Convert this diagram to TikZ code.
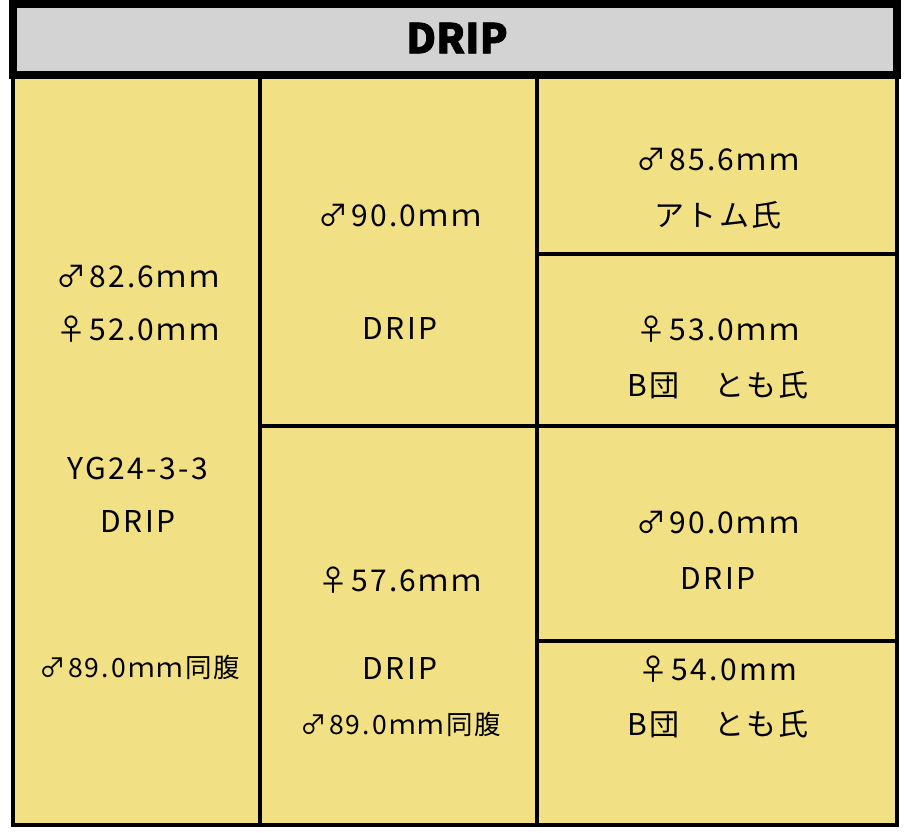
\documentclass[tikz,border=0pt]{standalone}
\usepackage{fontspec}
\setmainfont{Noto Sans CJK JP}
\newfontfamily\cellfont{Noto Sans CJK JP}[LetterSpace=8]
\newfontfamily\titlefont{Noto Sans CJK JP}[BoldFeatures={FakeBold=1.6}]
\usepackage{tikz}
\usetikzlibrary{positioning}

\definecolor{cellyellow}{HTML}{F1E184}
\definecolor{titlegray}{HTML}{D3D3D3}

\begin{document}
\begin{tikzpicture}[x=1pt,y=-1pt,
    cellbox/.style={draw=black,line width=4pt,fill=cellyellow},
    txt/.style={inner sep=0pt,font=\cellfont\fontsize{30}{36}\selectfont},
    small/.style={inner sep=0pt,font=\cellfont\fontsize{26.5}{32}\selectfont}]
  \useasboundingbox (0,0) rectangle (904,832);
      % cells
      \draw[cellbox] (13,77) rectangle (260,825);
      \draw[cellbox] (260,77) rectangle (536.5,426);
      \draw[cellbox] (260,426) rectangle (536.5,825);
      \draw[cellbox] (536.5,77) rectangle (896.5,253.5);
      \draw[cellbox] (536.5,253.5) rectangle (896.5,426);
      \draw[cellbox] (536.5,426) rectangle (896.5,641);
      \draw[cellbox] (536.5,641) rectangle (896.5,825);
      % title bar
      \draw[line width=8pt,fill=titlegray] (13,4) rectangle (897,75);
      \node[inner sep=0pt,font=\titlefont\fontsize{41}{48}\bfseries\selectfont] (title) at (457,38) {DRIP};
      % left column
      \node[txt] (m_left) at (138,277) {♂82.6ｍｍ};
      \node[txt] (f_left) at (138,329) {♀52.0ｍｍ};
      \node[txt] (id_left) at (138,468) {YG24-3-3};
      \node[txt] (n_left) at (138,521) {DRIP};
      \node[small] (s_left) at (140,667) {♂89.0ｍｍ同腹};
      % middle column
      \node[txt] (m_mid) at (400,216) {♂90.0ｍｍ};
      \node[txt] (n_mid) at (400,329) {DRIP};
      \node[txt] (f_mid) at (400,580) {♀57.6ｍｍ};
      \node[txt] (n_mid2) at (400,668) {DRIP};
      \node[small] (s_mid) at (401,724) {♂89.0ｍｍ同腹};
      % right column
      \node[txt] (m_r1) at (718,160) {♂85.6ｍｍ};
      \node[txt] (o_r1) at (718,215) {アトム氏};
      \node[txt] (f_r2) at (718,329) {♀53.0ｍｍ};
      \node[txt] (o_r2) at (718,385) {B団　とも氏};
      \node[txt] (m_r3) at (718,523) {♂90.0ｍｍ};
      \node[txt] (n_r3) at (718,578) {DRIP};
      \node[txt] (f_r4) at (718,669) {♀54.0mm};
      \node[txt] (o_r4) at (718,724) {B団　とも氏};
    \end{tikzpicture}
\end{document}
